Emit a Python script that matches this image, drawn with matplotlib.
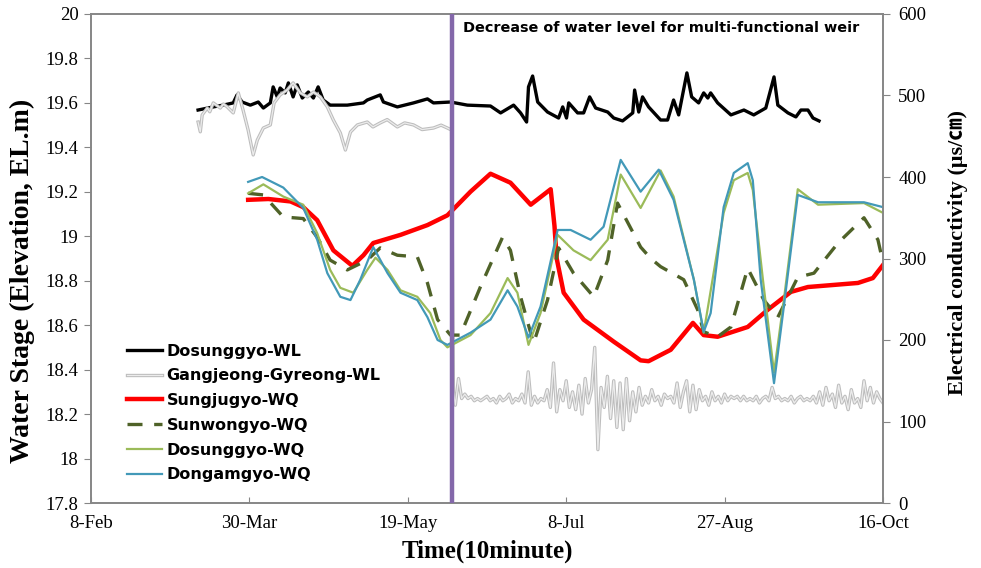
import matplotlib
matplotlib.use("Agg")
import matplotlib.pyplot as plt
import matplotlib.patheffects as pe
from matplotlib.ticker import FuncFormatter, MultipleLocator
import numpy as np
import pandas as pd

# day offsets from 8-Feb (2013)

# water level (left axis, EL.m)
dosung_wl_days = [33.8, 38.6, 41.7, 44.9, 46.1, 47.7, 50.3, 52.8, 54.4, 56.6, 57.5, 58.8, 59.7,
                  61.3, 62.3, 63.8, 65.1, 66.7, 68.6, 70.2, 71.7, 73.3, 75.5, 80.9, 86.0, 87.2,
                  91.3, 92.3, 96.7, 101.8, 106.2, 108.1, 113.5, 118.8, 126.1, 129.3, 133.4,
                  135.6, 137.5, 138.1, 139.4, 141.0, 144.1, 147.6, 148.9, 150.1, 150.8, 153.6,
                  155.5, 157.4, 159.3, 163.1, 165.0, 167.8, 171.0, 171.6, 172.9, 174.1, 176.0,
                  179.8, 182.0, 183.9, 185.5, 188.1, 189.6, 191.8, 193.4, 194.7, 195.6, 197.8,
                  202.0, 206.1, 209.2, 213.0, 215.6, 216.8, 220.0, 222.5, 224.1, 226.3, 227.9,
                  229.8]
dosung_wl = [19.568, 19.582, 19.590, 19.600, 19.636, 19.604, 19.590, 19.604, 19.577, 19.600,
             19.672, 19.627, 19.667, 19.645, 19.690, 19.627, 19.681, 19.622, 19.649, 19.622,
             19.672, 19.613, 19.590, 19.590, 19.600, 19.613, 19.636, 19.604, 19.582, 19.600,
             19.618, 19.600, 19.604, 19.590, 19.586, 19.555, 19.590, 19.555, 19.514, 19.672,
             19.721, 19.604, 19.559, 19.532, 19.582, 19.532, 19.600, 19.555, 19.555, 19.627,
             19.577, 19.559, 19.532, 19.519, 19.555, 19.658, 19.559, 19.627, 19.582, 19.523,
             19.523, 19.613, 19.546, 19.735, 19.627, 19.600, 19.645, 19.622, 19.645, 19.600,
             19.546, 19.568, 19.546, 19.577, 19.717, 19.590, 19.555, 19.537, 19.568, 19.568,
             19.532, 19.519]

gang_wl_days_before = [33.8, 34.5, 35.1, 36.7, 37.5, 38.6, 40.8, 41.8, 43.0, 44.9, 46.5, 48.0,
                       49.6, 51.2, 52.5, 54.4, 56.6, 57.8, 59.7, 61.9, 63.8, 66.1, 68.3, 70.2,
                       72.4, 74.6, 76.5, 78.7, 80.3, 81.9, 84.1, 87.2, 89.0, 91.3, 93.5, 96.7,
                       99.0, 101.8, 104.5, 108.1, 110.5, 112.5, 113.8, 114.4]
gang_wl_before = [19.514, 19.470, 19.546, 19.577, 19.560, 19.600, 19.577, 19.595, 19.582, 19.555,
                  19.645, 19.568, 19.478, 19.366, 19.433, 19.487, 19.501, 19.600, 19.636, 19.658,
                  19.690, 19.645, 19.627, 19.649, 19.627, 19.582, 19.523, 19.465, 19.388, 19.469,
                  19.501, 19.514, 19.492, 19.510, 19.525, 19.492, 19.510, 19.501, 19.480, 19.487,
                  19.500, 19.487, 19.478, 18.300]
gang_wl_after = [18.24, 18.36, 18.27, 18.29, 18.27, 18.28, 18.26, 18.27, 18.26, 18.27, 18.28,
                 18.26, 18.27, 18.25, 18.28, 18.26, 18.27, 18.29, 18.25, 18.27, 18.26, 18.29,
                 18.25, 18.39, 18.24, 18.28, 18.25, 18.27, 18.26, 18.31, 18.23, 18.43, 18.21,
                 18.31, 18.26, 18.35, 18.23, 18.30, 18.22, 18.33, 18.20, 18.36, 18.25, 18.31,
                 18.50, 18.04, 18.32, 18.23, 18.37, 18.18, 18.35, 18.14, 18.34, 18.13, 18.36,
                 18.17, 18.30, 18.21, 18.32, 18.24, 18.28, 18.25, 18.31, 18.26, 18.28, 18.24,
                 18.29, 18.27, 18.28, 18.25, 18.34, 18.23, 18.30, 18.35, 18.21, 18.33, 18.22,
                 18.31, 18.26, 18.28, 18.24, 18.30, 18.26, 18.28, 18.25, 18.29, 18.26, 18.28,
                 18.27, 18.28, 18.26, 18.28, 18.26, 18.27, 18.26, 18.28, 18.25, 18.27, 18.28,
                 18.26, 18.32, 18.27, 18.28, 18.26, 18.27, 18.26, 18.28, 18.25, 18.27, 18.28,
                 18.26, 18.27, 18.26, 18.28, 18.25, 18.30, 18.24, 18.32, 18.26, 18.29, 18.23,
                 18.33, 18.25, 18.28, 18.22, 18.31, 18.25, 18.27, 18.23, 18.35, 18.26, 18.32,
                 18.25, 18.30, 18.27, 18.25]
gang_wl_after_start = 115

# electrical conductivity (right axis, uS/cm)
sungju_days = [49.6, 56, 63, 67, 71.4, 76.5, 82.5, 86, 89.1, 97.7, 106.2, 112.5, 119.8, 126.1,
               132.4, 138.8, 145.1, 146.3, 147, 149.2, 155.5, 165.0, 173.5, 176, 183.0, 190.0,
               193.4, 197.8, 207.3, 213.6, 220.9, 226.3, 242.1, 246.8, 250]
sungju_ec = [372, 373, 370, 363, 347, 310, 291, 304, 319, 329, 341, 353, 382, 404, 393, 366, 385,
             340, 300, 258, 225, 198, 175, 174, 188, 221, 206, 204, 216, 237, 259, 265, 270, 276,
             292]

sunwon_days = [49.6, 54.4, 60.7, 67.0, 71.4, 75.5, 80.9, 87.2, 91.3, 96.7, 103.0, 106.2, 109.4,
               113.5, 116.6, 122.9, 129.9, 132.4, 135.6, 139.7, 144.1, 147.6, 152.3, 158.7,
               163.1, 166.2, 173.5, 176.7, 179.8, 187.1, 191.5, 193.4, 197.8, 202.0, 207.3,
               212.4, 216.8, 223.1, 228.2, 235.8, 244.0, 248.4, 250]
sunwon_ec = [380, 378, 351, 349, 326, 298, 286, 298, 313, 304, 302, 270, 225, 206, 206, 265, 326,
             310, 253, 196, 249, 313, 282, 253, 298, 368, 314, 300, 290, 274, 237, 210, 204, 216,
             288, 249, 228, 277, 282, 319, 350, 323, 295]

dosung_wq_days = [49.6, 54.4, 60.7, 67.0, 71.4, 75.5, 78.7, 82.8, 87.2, 89.8, 93.6, 97.7, 103.0,
                  107.1, 110.3, 112.5, 119.8, 126.1, 131.5, 134.6, 138.1, 141.9, 147.3, 152.3,
                  157.7, 163.1, 167.2, 173.5, 179.8, 183.9, 190.3, 193.4, 199.7, 202.9, 207.3,
                  208.9, 212.1, 215.6, 218.7, 223.1, 229.5, 244.0, 250]
dosung_wq = [380, 391, 376, 366, 331, 286, 264, 258, 286, 301, 286, 261, 253, 233, 200, 191, 206,
             233, 276, 258, 194, 233, 329, 310, 298, 323, 403, 362, 408, 376, 274, 209, 356, 396,
             405, 384, 274, 160, 249, 385, 366, 368, 356]

dongam_days = [49.6, 54.0, 60.7, 67.0, 71.4, 74.6, 78.7, 81.9, 85.0, 89.1, 93.6, 97.7, 103.0,
               106.2, 109.4, 112.5, 119.8, 126.1, 131.5, 134.6, 138.1, 141.9, 147.3, 151.4,
               157.7, 161.8, 167.2, 173.5, 179.2, 183.9, 190.3, 193.4, 195.6, 199.7, 202.9,
               207.3, 208.9, 211.4, 215.6, 218.7, 223.1, 229.5, 244.0, 250]
dongam_ec = [394, 400, 387, 362, 323, 282, 253, 249, 274, 314, 282, 258, 249, 228, 200, 194, 209,
             225, 261, 241, 203, 241, 335, 335, 323, 339, 421, 382, 409, 372, 274, 210, 233, 363,
             405, 417, 396, 274, 147, 241, 378, 369, 369, 363]

weir_day = 113.8
tick_days = [0, 50, 100, 150, 200, 250]

base = pd.Timestamp("2013-02-08")


def to_dates(days):
    return base + pd.to_timedelta(np.asarray(days, dtype=float), unit="D")


plt.rcParams["font.family"] = ["Liberation Serif", "Noto Sans CJK KR", "DejaVu Sans"]

fig = plt.figure(figsize=(9.81, 5.68), dpi=100)
ax = fig.add_axes([91 / 981, 65 / 568, 792 / 981, 489 / 568])
ax2 = ax.twinx()

gray_days = list(gang_wl_days_before) + list(np.arange(len(gang_wl_after)) + gang_wl_after_start)
gray_vals = list(gang_wl_before) + list(gang_wl_after)

l_black, = ax.plot(to_dates(dosung_wl_days), dosung_wl, color="black", lw=2.4,
                   solid_joinstyle="round", label="Dosunggyo-WL")
l_gray, = ax.plot(to_dates(gray_days), gray_vals, color="#ececec", lw=0.9,
                  label="Gangjeong-Gyreong-WL",
                  path_effects=[pe.Stroke(linewidth=2.4, foreground="#bdbdbd"), pe.Normal()])

l_red, = ax2.plot(to_dates(sungju_days), sungju_ec, color="#ff0000", lw=3.2,
                  solid_joinstyle="round", label="Sungjugyo-WQ")
l_dash, = ax2.plot(to_dates(sunwon_days), sunwon_ec, color="#4f6228", lw=2.4,
                   dashes=(4.5, 3.5), label="Sunwongyo-WQ")
l_green, = ax2.plot(to_dates(dosung_wq_days), dosung_wq, color="#9bbb59", lw=1.6,
                    solid_joinstyle="round", label="Dosunggyo-WQ")
l_blue, = ax2.plot(to_dates(dongam_days), dongam_ec, color="#4299b8", lw=1.6,
                   solid_joinstyle="round", label="Dongamgyo-WQ")

ax2.axvline(to_dates([weir_day])[0], color="#8468aa", lw=3.2, zorder=10)

ax.set_xlim(to_dates([0])[0], to_dates([250])[0])
ax.set_ylim(17.8, 20)
ax2.set_ylim(0, 600)

ticks = to_dates(tick_days)
ax.set_xticks(ticks)
ax.set_xticklabels([f"{d.day}-{d:%b}" for d in ticks])
ax.yaxis.set_major_locator(MultipleLocator(0.2))
ax.yaxis.set_major_formatter(FuncFormatter(lambda v, p: f"{v:.1f}".rstrip("0").rstrip(".")))
ax2.yaxis.set_major_locator(MultipleLocator(100))

for a in (ax, ax2):
    for s in a.spines.values():
        s.set_color("#868686")
        s.set_linewidth(1.2)
ax.tick_params(axis="y", direction="out", length=5, color="#868686", labelsize=13.5, pad=4)
ax.tick_params(axis="x", direction="in", length=4, color="#868686", labelsize=13.5, pad=9)
ax2.tick_params(axis="y", direction="out", length=5, color="#868686", labelsize=13.5, pad=6)

ax.set_xlabel("Time(10minute)", fontsize=18, fontweight="bold")
ax.xaxis.set_label_coords(0.5, -0.074)
ax.set_ylabel("Water Stage (Elevation, EL.m)", fontsize=20, fontweight="bold", va="center")
ax.yaxis.set_label_coords(-0.087, 0.455)
ax2.set_ylabel("Electrical conductivity (μs/㎝)", fontsize=16, fontweight="bold", va="center")
ax2.yaxis.set_label_coords(1.095, 0.512)

ax.text(0.470, 0.972, "Decrease of water level for multi-functional weir",
        transform=ax.transAxes, fontsize=10.4, fontweight="bold", family="DejaVu Sans",
        va="center", ha="left")

handles = [l_black, l_gray, l_red, l_dash, l_green, l_blue]
leg = ax2.legend(handles=handles, loc="upper left", bbox_to_anchor=(0.045, 0.326),
                 frameon=False, borderpad=0, borderaxespad=0, labelspacing=0.61,
                 handlelength=2.2, handletextpad=0.3,
                 prop={"family": "DejaVu Sans", "weight": "bold", "size": 11.5})

fig.savefig("out.png", dpi=100)
